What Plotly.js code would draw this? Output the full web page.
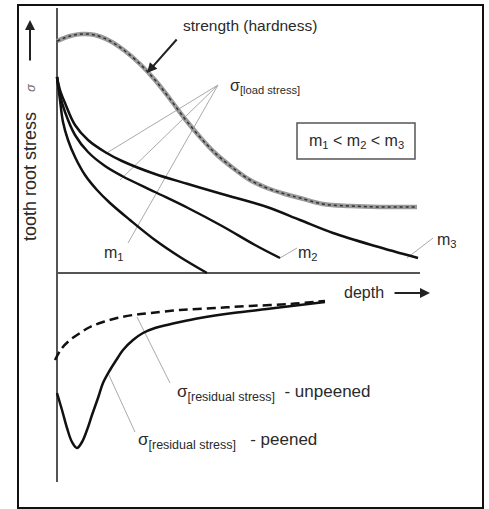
<!DOCTYPE html>
<html>
<head>
<meta charset="utf-8">
<script src="https://cdn.plot.ly/plotly-3.0.1.min.js"></script>
<style>html,body{margin:0;padding:0;background:#fff;}#chart{width:489px;height:509px;}</style>
</head>
<body>
<div id="chart"></div>
<script>
// depth (x) and tooth root stress (y), arbitrary units
const strengthDepth = [0,13,25,38,53,68,83,98,113,128,143,158,176,193,210,228,243,266,293,323,360];
const strengthStress = [232,237,239,238,232,222,209,193,174,154,136,120,105,93,85,79,75,69,67,66,66];

const m1Depth = [0,3,6,11,18,28,40,53,73,98,123,150];
const m1Stress = [196,173,151,133,116,98,83,70,53,33,16,0];

const m2Depth = [0,3,8,18,31,48,65,98,131,165,198,223];
const m2Stress = [196,178,161,138,121,107,97,81,65,47,28,15];

const m3Depth = [0,3,8,18,31,48,65,98,131,165,210,243,276,318,361];
const m3Stress = [196,183,170,148,133,121,112,99,89,79,66,53,40,27,15];

const unpeenedDepth = [-2,5,13,23,33,46,60,76,93,123,158,193,233,268];
const unpeenedStress = [-87,-75,-67,-60,-54,-49,-45,-42,-40,-37,-35,-33,-31,-28];

const peenedDepth = [0,5,10,15,20,25,30,35,41,46,53,60,66,76,86,98,110,123,143,176,210,243,268];
const peenedStress = [-120,-137,-155,-169,-175,-169,-157,-142,-125,-110,-97,-86,-77,-67,-60,-55,-52,-49,-45,-40,-36,-32,-29];

// layout helpers: convert picture positions to axis units
const OX = 57, OY = 273;
const X = p => p - OX;
const Y = p => OY - p;

const FONT = '"Liberation Sans", Arial, sans-serif';
const TXT = '#2a2a2a';

const traces = [
  {x: strengthDepth, y: strengthStress, mode: 'lines', line: {color: '#9a9a9a', width: 4.5, shape: 'spline'}, hoverinfo: 'skip'},
  {x: strengthDepth, y: strengthStress, mode: 'lines', line: {color: '#333', width: 1.5, dash: 'dot', shape: 'spline'}, hoverinfo: 'skip'},
  {x: m1Depth, y: m1Stress, mode: 'lines', line: {color: '#111', width: 2.5, shape: 'spline'}},
  {x: m2Depth, y: m2Stress, mode: 'lines', line: {color: '#111', width: 2.5, shape: 'spline'}},
  {x: m3Depth, y: m3Stress, mode: 'lines', line: {color: '#111', width: 2.5, shape: 'spline'}},
  {x: unpeenedDepth, y: unpeenedStress, mode: 'lines', line: {color: '#111', width: 2.5, dash: '9px,5px', shape: 'spline'}},
  {x: peenedDepth, y: peenedStress, mode: 'lines', line: {color: '#111', width: 2.5, shape: 'spline'}}
];

function seg(x0, y0, x1, y1, color, width) {
  return {type: 'line', xref: 'x', yref: 'y', x0: X(x0), y0: Y(y0), x1: X(x1), y1: Y(y1),
          line: {color: color, width: width}, layer: 'below'};
}

const shapes = [
  {type: 'rect', xref: 'x', yref: 'y', x0: X(18), x1: X(483), y0: Y(5), y1: Y(508), line: {color: '#111', width: 2}},
  seg(57, 8, 57, 482, '#555', 2),
  seg(57, 273, 420, 273, '#555', 2),
  seg(218, 85, 105, 154, '#aaa', 1),
  seg(218, 85, 120, 180, '#aaa', 1),
  seg(218, 85, 128, 243, '#aaa', 1),
  seg(280, 258, 297, 248, '#aaa', 1),
  seg(407, 258, 433, 238, '#aaa', 1),
  seg(170, 383, 137, 317, '#aaa', 1),
  seg(135, 432, 108, 373, '#aaa', 1),
  {type: 'rect', xref: 'x', yref: 'y', x0: X(297), x1: X(415), y0: Y(123), y1: Y(159), line: {color: '#555', width: 1.5}}
];

function lab(text, x, y, opts) {
  return Object.assign({text: text, x: X(x), y: Y(y), xref: 'x', yref: 'y', showarrow: false,
    font: {family: FONT, size: 16, color: TXT}, xanchor: 'center', yanchor: 'middle'}, opts || {});
}

const SUB = s => '<sub><span style="font-size:12.5px">' + s + '</span></sub>';

const annotations = [
  lab('strength (hardness)', 250, 25, {font: {family: FONT, size: 15.5, color: TXT}}),
  {x: X(147), y: Y(73), xref: 'x', yref: 'y', ax: 31, ay: -35, text: '', showarrow: true,
   arrowhead: 2, arrowsize: 1, arrowwidth: 2, arrowcolor: '#222'},
  lab('σ<sub>[load stress]</sub>', 228, 86, {xanchor: 'left'}),
  lab('m<sub>1</sub> < m<sub>2</sub> < m<sub>3</sub>', 356, 141),
  lab('m<sub>1</sub>', 114, 253),
  lab('m<sub>2</sub>', 308, 253),
  lab('m<sub>3</sub>', 447, 240),
  lab('depth', 364, 292),
  {x: X(430), y: Y(293), xref: 'x', yref: 'y', ax: -37, ay: 0, text: '', showarrow: true,
   arrowhead: 2, arrowsize: 1, arrowwidth: 2, arrowcolor: '#222'},
  lab('tooth root stress', 30, 177, {textangle: -90, font: {family: FONT, size: 18, color: TXT}}),
  lab('<i>σ</i>', 30, 88, {textangle: -90, font: {family: FONT, size: 13, color: '#666'}}),
  {x: X(30), y: Y(20), xref: 'x', yref: 'y', ax: 0, ay: 42, text: '', showarrow: true,
   arrowhead: 2, arrowsize: 1, arrowwidth: 2, arrowcolor: '#222'},
  lab('σ' + SUB('[residual stress]') + '&nbsp;&nbsp;- unpeened', 175, 393, {xanchor: 'left', font: {family: FONT, size: 17, color: TXT}}),
  lab('σ' + SUB('[residual stress]') + '&nbsp;&nbsp;&nbsp;- peened', 136, 441, {xanchor: 'left', font: {family: FONT, size: 17, color: TXT}})
];

const layout = {
  width: 489, height: 509,
  margin: {l: 0, r: 0, t: 0, b: 0},
  paper_bgcolor: '#fff', plot_bgcolor: '#fff',
  showlegend: false,
  xaxis: {range: [X(0), X(489)], showgrid: false, zeroline: false, showticklabels: false, showline: false, ticks: '', fixedrange: true},
  yaxis: {range: [Y(509), Y(0)], showgrid: false, zeroline: false, showticklabels: false, showline: false, ticks: '', fixedrange: true},
  shapes: shapes,
  annotations: annotations
};

Plotly.newPlot('chart', traces, layout, {displayModeBar: false, staticPlot: true});
</script>
</body>
</html>
